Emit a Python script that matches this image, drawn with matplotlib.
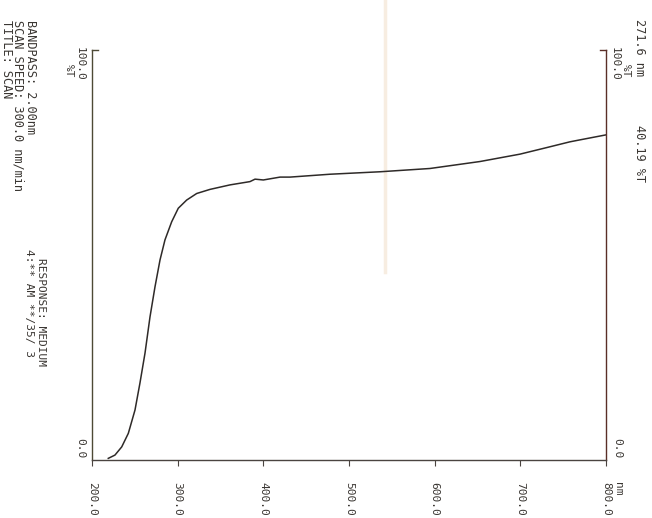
import matplotlib
matplotlib.use("Agg")
import matplotlib.pyplot as plt
from matplotlib.lines import Line2D

# scan readout: wavelength (nm) vs transmittance (%T)
wavelength = [219.0, 226.8, 234.7, 242.4, 250.2, 256.0, 261.9, 267.7, 273.5,
              279.4, 285.2, 293.0, 300.7, 310.5, 322.2, 337.7, 361.1, 384.4,
              390.3, 400.0, 419.5, 431.1, 477.8, 536.2, 594.5, 652.9, 699.6,
              730.8, 757.8, 767.6, 800.0]
transmittance = [0.4, 1.2, 3.2, 6.5, 12.2, 18.8, 26.1, 34.9, 42.2,
                 48.8, 53.7, 58.1, 61.4, 63.4, 65.0, 66.0, 67.1, 67.9,
                 68.5, 68.3, 69.0, 69.0, 69.7, 70.3, 71.1, 72.8, 74.6,
                 76.2, 77.6, 78.0, 79.3]

x_ticks = [200, 300, 400, 500, 600, 700, 800]
x_labels = ["200.0", "300.0", "400.0", "500.0", "600.0", "700.0", "800.0"]

header_lines = ["TITLE: SCAN", "SCAN SPEED: 300.0 nm/min", "BANDPASS: 2.00nm"]
footer_lines = ["4:** AM **/35/ 3", "RESPONSE: MEDIUM"]
cursor_lines = ["271.6 nm", "40.19 %T"]

mono = "DejaVu Sans Mono"
fs = 8.0
fs_big = 8.6
ink = "#3a3632"

fig = plt.figure(figsize=(6.52, 5.18), dpi=100)
W, H = 652, 518
ax = fig.add_axes([92 / W, 58 / H, 514 / W, 410 / H])
ax.set_facecolor("none")

ax.plot(wavelength, transmittance, color="#2e2a28", lw=1.1)
ax.set_xlim(200, 800)
ax.set_ylim(0, 100)

ax.spines["top"].set_visible(False)
ax.spines["left"].set_color("#4d4a35")
ax.spines["right"].set_color("#5a2f28")
ax.spines["bottom"].set_color("#4a4440")
for s in ["left", "right", "bottom"]:
    ax.spines[s].set_linewidth(1.0)

ax.set_xticks(x_ticks)
ax.set_xticklabels(x_labels, rotation=-90, family=mono, fontsize=fs, color=ink)
ax.tick_params(axis="x", direction="out", length=4, pad=12, color="#4a4440")
ax.set_yticks([])

# top ticks on both sides pointing inward
ax.plot([200, 207], [100, 100], color="#4d4a35", lw=1.0, clip_on=False)
ax.plot([793, 800], [100, 100], color="#5a2f28", lw=1.0, clip_on=False)

# y-axis labels (rotated like the plotter printout)
kw = dict(rotation=-90, family=mono, fontsize=fs, color=ink,
          xycoords=("axes fraction", "data"), textcoords="offset points",
          ha="center", annotation_clip=False)
ax.annotate("100.0", xy=(0, 100), xytext=(-8.5, 2), va="top", **kw)
ax.annotate("%T", xy=(0, 100), xytext=(-16.5, -10), va="top", **kw)
ax.annotate("0.0", xy=(0, 0), xytext=(-8.5, 1.5), va="bottom", **kw)
ax.annotate("100.0", xy=(1, 100), xytext=(6, 2), va="top", **kw)
ax.annotate("%T", xy=(1, 100), xytext=(14, -10), va="top", **kw)
ax.annotate("0.0", xy=(1, 0), xytext=(8, 1.5), va="bottom", **kw)
ax.annotate("nm", xy=(1, 0), xytext=(8.5, -16), va="top", **kw)

# header text block on the left
for i, line in enumerate(header_lines):
    fig.text((6 + 12 * i) / W, 1 - 20 / H, line, rotation=-90, family=mono,
             fontsize=fs_big, color=ink, ha="center", va="top")
for i, line in enumerate(footer_lines):
    fig.text((29 + 11.5 * i) / W, 1 - (249 + 9 * i) / H, line, rotation=-90,
             family=mono, fontsize=fs, color=ink, ha="center", va="top")

# cursor readout top right
fig.text(640 / W, 1 - 19 / H, cursor_lines[0], rotation=-90, family=mono,
         fontsize=fs_big, color=ink, ha="center", va="top")
fig.text(640 / W, 1 - 125 / H, cursor_lines[1], rotation=-90, family=mono,
         fontsize=fs_big, color=ink, ha="center", va="top")

# faint streak from the scan
fig.add_artist(Line2D([385 / W, 385 / W], [1.0, 1 - 272 / H],
                      transform=fig.transFigure, color="#ecd2b4", lw=2.5,
                      alpha=0.4, zorder=-1))

fig.savefig("out.png", dpi=100)
